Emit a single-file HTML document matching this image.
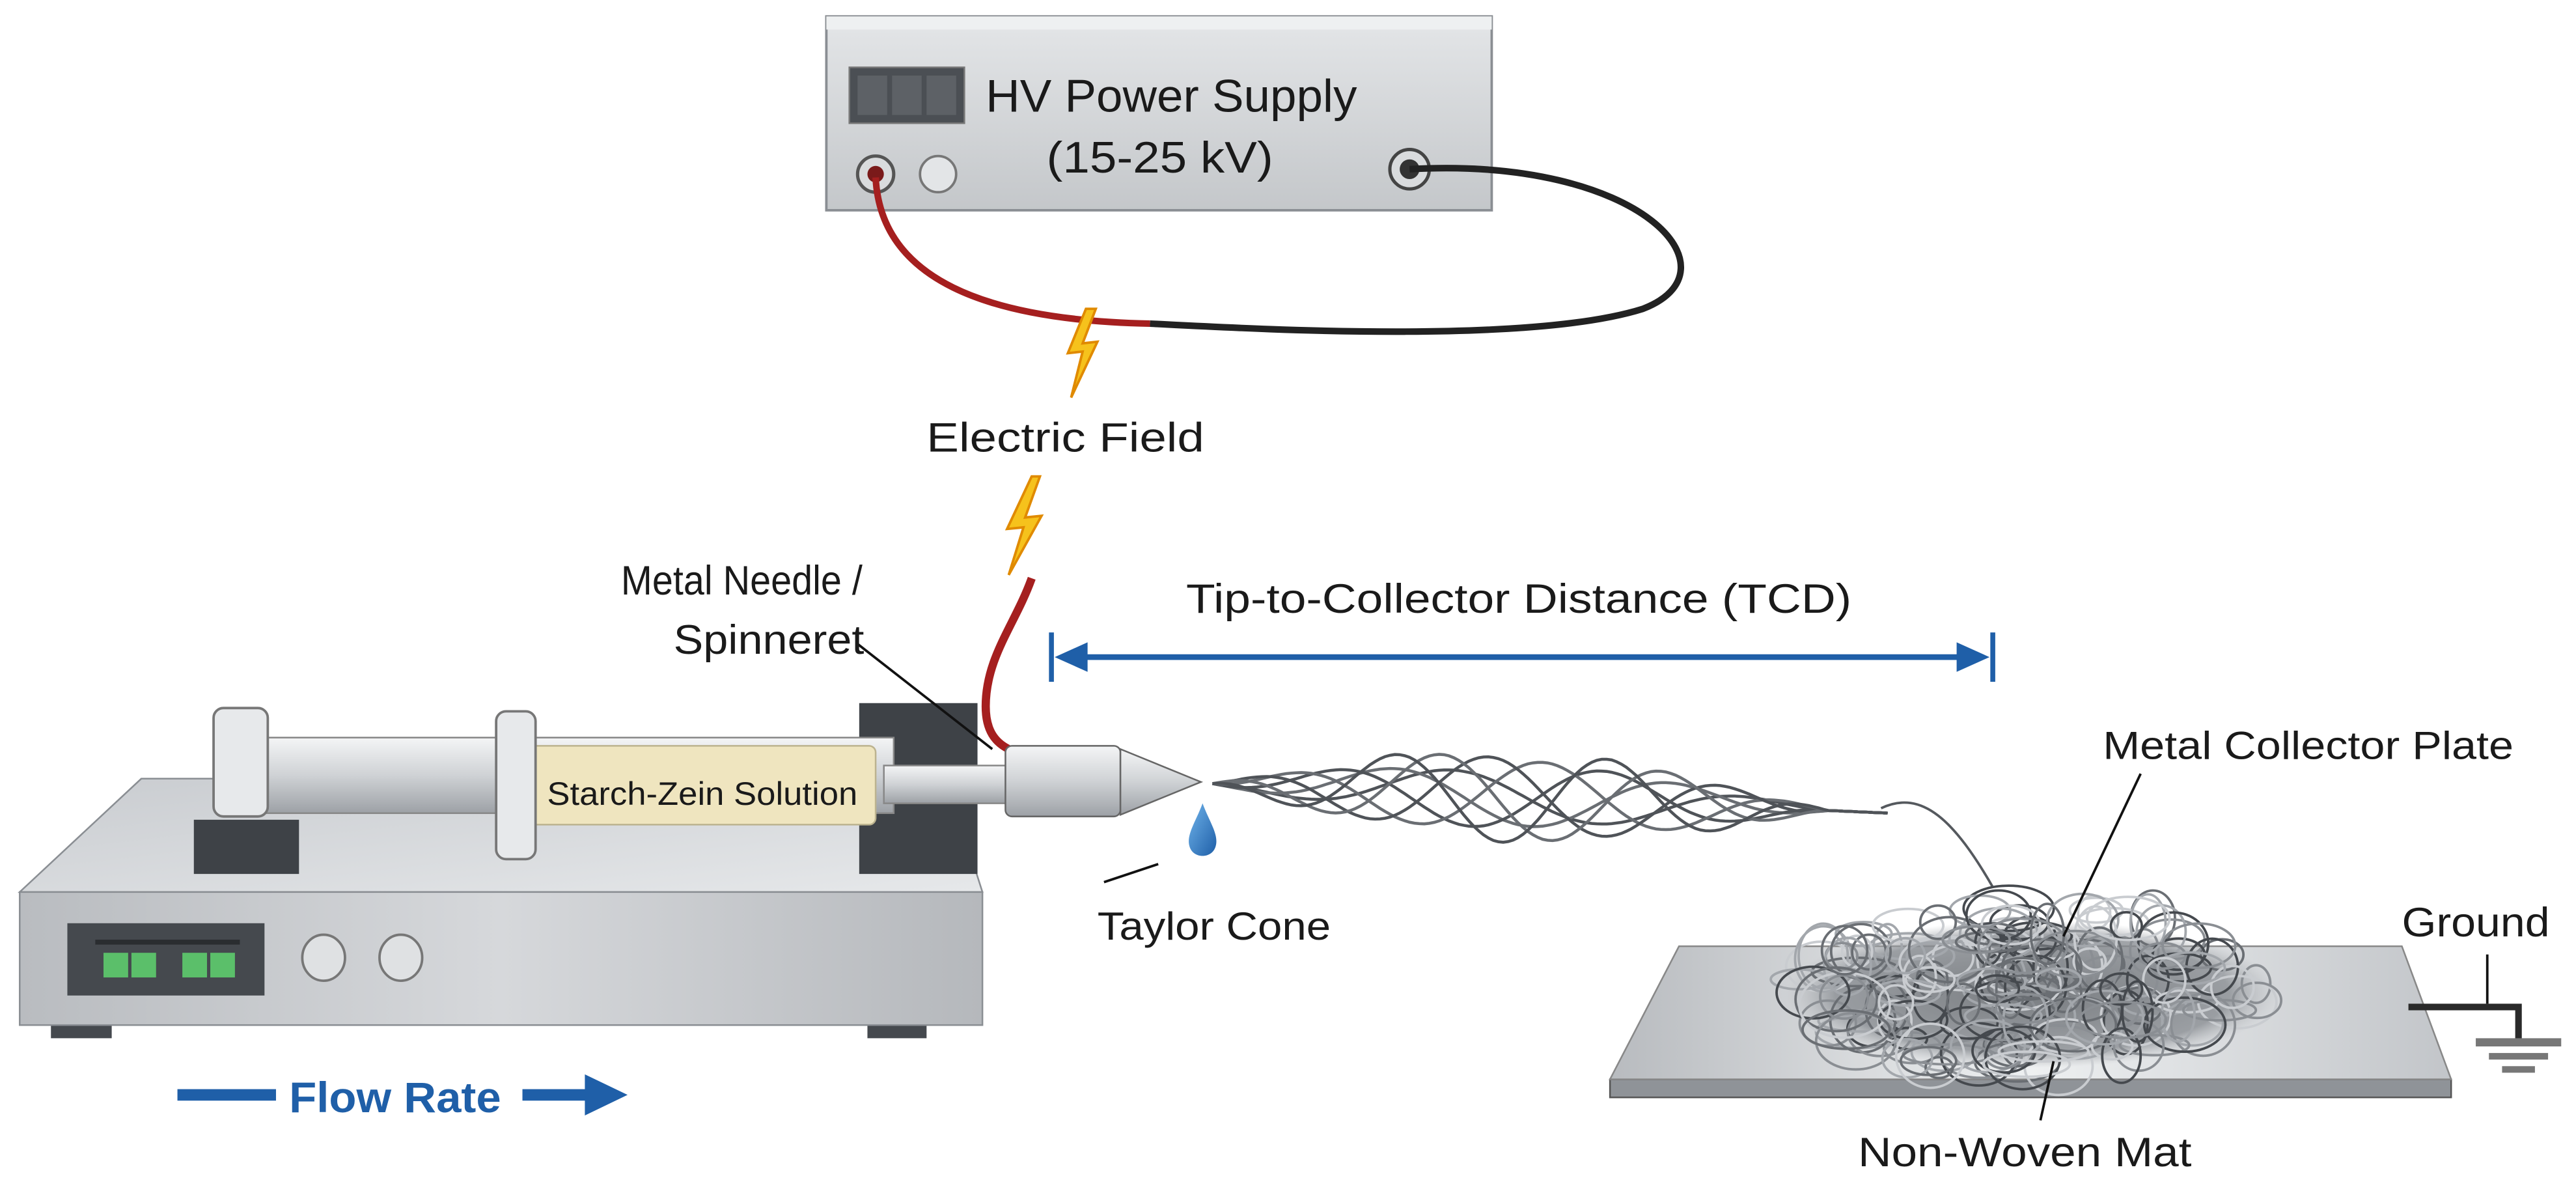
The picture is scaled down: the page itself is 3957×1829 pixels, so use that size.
<!DOCTYPE html>
<html><head><meta charset="utf-8"><style>
html,body{margin:0;padding:0;background:#fff;}
svg{display:block;}
text{font-family:"Liberation Sans",sans-serif;fill:#1a1a1a;}
</style></head><body>
<svg id="s" width="3957" height="1829" viewBox="0 0 1568 725" preserveAspectRatio="none" xmlns="http://www.w3.org/2000/svg">
<defs>
<linearGradient id="gbox" x1="0" y1="0" x2="0" y2="1"><stop offset="0" stop-color="#e4e6e8"/><stop offset="1" stop-color="#c4c7ca"/></linearGradient>
<linearGradient id="gtop" x1="0" y1="0" x2="1" y2="1"><stop offset="0" stop-color="#c9ccd0"/><stop offset="1" stop-color="#e6e8ea"/></linearGradient>
<linearGradient id="gfront" x1="0" y1="0" x2="1" y2="0"><stop offset="0" stop-color="#b9bcc0"/><stop offset="0.5" stop-color="#d6d8db"/><stop offset="1" stop-color="#b5b8bc"/></linearGradient>
<linearGradient id="gbar" x1="0" y1="0" x2="0" y2="1"><stop offset="0" stop-color="#f4f5f6"/><stop offset="0.5" stop-color="#cfd2d5"/><stop offset="1" stop-color="#9da1a6"/></linearGradient>
<linearGradient id="gplate" x1="0" y1="0" x2="1" y2="0"><stop offset="0" stop-color="#b8bbbf"/><stop offset="0.5" stop-color="#eef0f1"/><stop offset="1" stop-color="#c2c5c9"/></linearGradient>
<linearGradient id="gdrop" x1="0" y1="0" x2="1" y2="1"><stop offset="0" stop-color="#6fb3ea"/><stop offset="1" stop-color="#1f5fa8"/></linearGradient>
<radialGradient id="gmat" cx="0.5" cy="0.5" r="0.5"><stop offset="0" stop-color="#5c6065"/><stop offset="0.8" stop-color="#8a8e93"/><stop offset="1" stop-color="#b5b8bc" stop-opacity="0"/></radialGradient>
</defs>

<!-- HV power supply -->
<rect x="503" y="10" width="405" height="118" fill="url(#gbox)" stroke="#8a8e93" stroke-width="1.5"/>
<rect x="503" y="10" width="405" height="8" fill="#eef0f1"/>
<rect x="517" y="41" width="70" height="34" fill="#4b4f54" stroke="#777" />
<rect x="522" y="46" width="18" height="24" fill="#5d6166"/><rect x="543" y="46" width="18" height="24" fill="#5d6166"/><rect x="564" y="46" width="18" height="24" fill="#5d6166"/>
<text x="600" y="68" font-size="28" textLength="226" lengthAdjust="spacingAndGlyphs">HV Power Supply</text>
<text x="637" y="105" font-size="27" textLength="138" lengthAdjust="spacingAndGlyphs">(15-25 kV)</text>
<circle cx="533" cy="106" r="11" fill="#d9dbdd" stroke="#555" stroke-width="2"/><circle cx="533" cy="106" r="5" fill="#7a1a1a"/>
<circle cx="571" cy="106" r="11" fill="#e3e5e7" stroke="#777" stroke-width="1.5"/>
<circle cx="858" cy="103" r="12" fill="#d9dbdd" stroke="#444" stroke-width="2"/><circle cx="858" cy="103" r="6" fill="#333"/>

<!-- wires -->
<path d="M858,103 C1000,95 1060,165 1000,188 C930,210 760,200 700,197" fill="none" stroke="#222" stroke-width="4"/>
<path d="M533,108 C536,170 600,195 700,197" fill="none" stroke="#a51f1f" stroke-width="4"/>
<path d="M628,352 C618,380 600,400 600,430 C600,445 606,452 614,456" fill="none" stroke="#a51f1f" stroke-width="5"/>

<!-- bolts -->
<polygon points="661,188 650,215 659,214 652,242 668,208 659,209 667,188" fill="#f6c21c" stroke="#e08a00" stroke-width="1.5"/>
<polygon points="628,290 613,322 623,321 614,350 634,314 624,315 633,290" fill="#f6c21c" stroke="#e08a00" stroke-width="1.5"/>
<text x="564" y="275" font-size="25" textLength="169" lengthAdjust="spacingAndGlyphs">Electric Field</text>

<!-- TCD -->
<line x1="640" y1="385" x2="640" y2="415" stroke="#1f5fa8" stroke-width="3"/>
<line x1="1213" y1="385" x2="1213" y2="415" stroke="#1f5fa8" stroke-width="3"/>
<line x1="652" y1="400" x2="1200" y2="400" stroke="#1f5fa8" stroke-width="3.5"/>
<polygon points="642,400 662,391 662,409" fill="#1f5fa8"/>
<polygon points="1211,400 1191,391 1191,409" fill="#1f5fa8"/>
<text x="722" y="373" font-size="25" textLength="405" lengthAdjust="spacingAndGlyphs">Tip-to-Collector Distance (TCD)</text>

<!-- pump -->
<rect x="31" y="620" width="37" height="12" fill="#45494e"/><rect x="528" y="620" width="36" height="12" fill="#45494e"/>
<polygon points="86,474 576,474 598,543 12,543" fill="url(#gtop)" stroke="#8a8e93" stroke-width="1"/>
<rect x="12" y="543" width="586" height="81" fill="url(#gfront)" stroke="#8a8e93" stroke-width="1"/>
<rect x="41" y="562" width="120" height="44" fill="#45494e"/>
<rect x="58" y="572" width="88" height="3" fill="#2a2d30"/>
<rect x="63" y="580" width="15" height="15" fill="#5bbf6a"/><rect x="80" y="580" width="15" height="15" fill="#5bbf6a"/>
<rect x="111" y="580" width="15" height="15" fill="#5bbf6a"/><rect x="128" y="580" width="15" height="15" fill="#5bbf6a"/>
<ellipse cx="197" cy="583" rx="13" ry="14" fill="#dfe1e3" stroke="#777" stroke-width="1.5"/>
<ellipse cx="244" cy="583" rx="13" ry="14" fill="#dfe1e3" stroke="#777" stroke-width="1.5"/>
<rect x="118" y="499" width="64" height="33" fill="#3e4247"/>
<rect x="523" y="428" width="72" height="104" fill="#3e4247"/>
<rect x="144" y="449" width="400" height="46" fill="url(#gbar)" stroke="#888" stroke-width="1"/>
<rect x="319" y="454" width="214" height="48" rx="4" fill="#efe5bf" stroke="#bcb38f"/>
<text x="333" y="490" font-size="20" textLength="189" lengthAdjust="spacingAndGlyphs">Starch-Zein Solution</text>
<rect x="130" y="431" width="33" height="66" rx="6" fill="#e7e9eb" stroke="#777" stroke-width="1.5"/>
<rect x="302" y="433" width="24" height="90" rx="6" fill="#e7e9eb" stroke="#777" stroke-width="1.5"/>
<rect x="538" y="466" width="76" height="23" fill="url(#gbar)" stroke="#888"/>
<rect x="612" y="454" width="70" height="43" rx="4" fill="url(#gbar)" stroke="#666"/>
<polygon points="682,456 731,476 682,496" fill="url(#gbar)" stroke="#666"/>
<line x1="522" y1="392" x2="604" y2="456" stroke="#111" stroke-width="1.5"/>
<text x="378" y="362" font-size="25" textLength="147" lengthAdjust="spacingAndGlyphs">Metal Needle /</text>
<text x="410" y="398" font-size="25" textLength="116" lengthAdjust="spacingAndGlyphs">Spinneret</text>

<!-- drop -->
<path d="M732,489 C736,500 742,508 740,515 C738,523 726,523 724,515 C722,508 728,500 732,489 Z" fill="url(#gdrop)"/>
<line x1="672" y1="537" x2="705" y2="526" stroke="#111" stroke-width="1.5"/>
<text x="668" y="572" font-size="24" textLength="142" lengthAdjust="spacingAndGlyphs">Taylor Cone</text>

<!-- flow rate -->
<rect x="108" y="663" width="60" height="7" fill="#1f5fa8"/>
<text x="176" y="677" font-size="26" font-weight="bold" style="fill:#1f5fa8" textLength="129" lengthAdjust="spacingAndGlyphs">Flow Rate</text>
<rect x="318" y="663" width="42" height="7" fill="#1f5fa8"/>
<polygon points="356,654 382,666.5 356,679" fill="#1f5fa8"/>

<!-- collector -->
<polygon points="980,657 1492,657 1492,668 980,668" fill="#8f9398" stroke="#555" stroke-width="1"/>
<polygon points="1022,576 1462,576 1492,657 980,657" fill="url(#gplate)" stroke="#888" stroke-width="1"/>
<ellipse cx="1237" cy="605" rx="150" ry="45" fill="url(#gmat)" opacity="0.8"/>
<g id="fib" fill="none"></g>
<g id="mat" fill="none"></g>
<line x1="1303" y1="471" x2="1256" y2="570" stroke="#111" stroke-width="1.5"/>
<text x="1280" y="462" font-size="24" textLength="250" lengthAdjust="spacingAndGlyphs">Metal Collector Plate</text>
<line x1="1250" y1="646" x2="1242" y2="682" stroke="#111" stroke-width="1.5"/>
<text x="1131" y="710" font-size="25" textLength="203" lengthAdjust="spacingAndGlyphs">Non-Woven Mat</text>
<polyline points="1466,613 1533,613 1533,634" fill="none" stroke="#2a2a2a" stroke-width="4"/>
<line x1="1514" y1="581" x2="1514" y2="611" stroke="#111" stroke-width="1.5"/>
<rect x="1507" y="632" width="52" height="5" fill="#777"/>
<rect x="1515" y="641" width="36" height="4" fill="#777"/>
<rect x="1523" y="649" width="20" height="4" fill="#777"/>
<text x="1462" y="570" font-size="25" textLength="90" lengthAdjust="spacingAndGlyphs">Ground</text>
</svg>
<script>
(function(){
var NS="http://www.w3.org/2000/svg";
var fib=document.getElementById("fib"),mat=document.getElementById("mat");
var seed=7;function r(){seed=(seed*9301+49297)%233280;return seed/233280;}
function p(d,c,w,g){var e=document.createElementNS(NS,"path");e.setAttribute("d",d);e.setAttribute("stroke",c);e.setAttribute("stroke-width",w);g.appendChild(e);}
for(var k=0;k<7;k++){
 var d="",ph=k*0.95,fr=0.033+k*0.0025;
 for(var x=738;x<=1150;x+=3){
  var t=(x-738)/412;var amp=Math.sin(Math.PI*Math.min(1,t*1.1))*26*(0.6+0.08*k);
  var y=477+t*18+amp*Math.sin((x-738)*fr+ph);
  d+=(x==738?"M":"L")+x.toFixed(1)+","+y.toFixed(1);
 }
 p(d,k%2?"#6a6e73":"#4f5358",1.8,fib);
}
p("M1145,492 C1170,480 1190,500 1213,540","#55595e",1.5,fib);
for(var i=0;i<170;i++){
 var cx=1095+r()*290,cy=545+r()*105;
 var dx=cx-1238,dy=(cy-603)*2.9;if(dx*dx+dy*dy>148*148){i--;continue;}
 var rx=8+r()*20,ry=6+r()*14;
 var c=["#6a6e73","#a3a7ac","#c9ccd0","#45494e","#8a8e93"][i%5];
 p("M"+(cx-rx)+","+cy+" a"+rx+","+ry+" 0 1,0 "+(2*rx)+",0 a"+rx+","+ry+" 0 1,0 "+(-2*rx)+",0",c,1.5,mat);
}
})();
</script>
</body></html>
